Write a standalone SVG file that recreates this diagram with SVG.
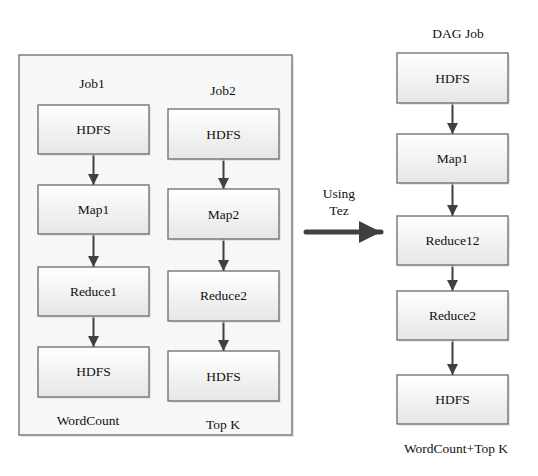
<svg xmlns="http://www.w3.org/2000/svg" width="538" height="476" viewBox="0 0 538 476">
<defs>
<linearGradient id="g" x1="0" y1="0" x2="0" y2="1"><stop offset="0" stop-color="#ffffff"/><stop offset="1" stop-color="#e6e6e6"/></linearGradient>
<marker id="ah" viewBox="0 0 10 10" refX="10" refY="5" markerWidth="6" markerHeight="5.5" markerUnits="strokeWidth" orient="auto"><path d="M0,0 L10,5 L0,10 z" fill="#404040"/></marker>
<marker id="big" viewBox="0 0 10 10" refX="10" refY="5" markerWidth="4.5" markerHeight="4.5" markerUnits="strokeWidth" orient="auto"><path d="M0,0 L10,5 L0,10 z" fill="#404040"/></marker>
<style>
.box{fill:url(#g);stroke:#6a6a6a;stroke-width:1.3}
.sh{fill:#d8d8d8;opacity:0.6}
.t{font-family:'Liberation Serif','DejaVu Serif','Times New Roman',serif;font-size:13.5px;fill:#111;text-anchor:middle}
.c{stroke:#404040;stroke-width:2;fill:none;marker-end:url(#ah)}
</style>
</defs>
<rect width="538" height="476" fill="#ffffff"/>
<g id="container">
<rect x="21" y="57" width="273" height="380" fill="#d0d0d0" opacity="0.5"/>
<rect x="19" y="55" width="273" height="380" fill="#f7f7f7" stroke="#6a6a6a" stroke-width="1.3"/>
</g>
<g id="labels">
<text class="t" x="92" y="88">Job1</text>
<text class="t" x="223" y="95">Job2</text>
<text class="t" x="88" y="425">WordCount</text>
<text class="t" x="223" y="429">Top K</text>
<text class="t" x="458" y="38">DAG Job</text>
<text class="t" x="456" y="453">WordCount+Top K</text>
<text class="t" x="339" y="198">Using</text>
<text class="t" x="339" y="215">Tez</text>
</g>
<g id="connectors">
<line class="c" x1="93.5" y1="154" x2="93.5" y2="185"/>
<line class="c" x1="93.5" y1="234" x2="93.5" y2="267"/>
<line class="c" x1="93.5" y1="316" x2="93.5" y2="347"/>
<line class="c" x1="223.5" y1="159" x2="223.5" y2="189"/>
<line class="c" x1="223.5" y1="239" x2="223.5" y2="271"/>
<line class="c" x1="223.5" y1="321" x2="223.5" y2="351"/>
<line class="c" x1="452.5" y1="103" x2="452.5" y2="134"/>
<line class="c" x1="452.5" y1="183" x2="452.5" y2="216"/>
<line class="c" x1="452.5" y1="265" x2="452.5" y2="291"/>
<line class="c" x1="452.5" y1="340" x2="452.5" y2="375"/>
<line x1="306" y1="232" x2="381" y2="232" stroke="#404040" stroke-width="5" stroke-linecap="round" marker-end="url(#big)"/>
</g>
<g id="job1-hdfs"><rect class="sh" x="40" y="107" width="111" height="49"/><rect class="box" x="38" y="105" width="111" height="49"/><text class="t" x="93.5" y="134">HDFS</text></g>
<g id="job1-map1"><rect class="sh" x="40" y="187" width="111" height="49"/><rect class="box" x="38" y="185" width="111" height="49"/><text class="t" x="93.5" y="214">Map1</text></g>
<g id="job1-reduce1"><rect class="sh" x="40" y="269" width="111" height="49"/><rect class="box" x="38" y="267" width="111" height="49"/><text class="t" x="93.5" y="296">Reduce1</text></g>
<g id="job1-hdfs-out"><rect class="sh" x="40" y="349" width="111" height="50"/><rect class="box" x="38" y="347" width="111" height="50"/><text class="t" x="93.5" y="376">HDFS</text></g>
<g id="job2-hdfs"><rect class="sh" x="170" y="111" width="111" height="50"/><rect class="box" x="168" y="109" width="111" height="50"/><text class="t" x="223.5" y="139">HDFS</text></g>
<g id="job2-map2"><rect class="sh" x="170" y="191" width="111" height="50"/><rect class="box" x="168" y="189" width="111" height="50"/><text class="t" x="223.5" y="219">Map2</text></g>
<g id="job2-reduce2"><rect class="sh" x="170" y="273" width="111" height="50"/><rect class="box" x="168" y="271" width="111" height="50"/><text class="t" x="223.5" y="300">Reduce2</text></g>
<g id="job2-hdfs-out"><rect class="sh" x="170" y="353" width="111" height="50"/><rect class="box" x="168" y="351" width="111" height="50"/><text class="t" x="223.5" y="381">HDFS</text></g>
<g id="dag-hdfs"><rect class="sh" x="399" y="55" width="111" height="50"/><rect class="box" x="397" y="53" width="111" height="50"/><text class="t" x="452.5" y="83">HDFS</text></g>
<g id="dag-map1"><rect class="sh" x="399" y="136" width="111" height="49"/><rect class="box" x="397" y="134" width="111" height="49"/><text class="t" x="452.5" y="163">Map1</text></g>
<g id="dag-reduce12"><rect class="sh" x="399" y="218" width="111" height="49"/><rect class="box" x="397" y="216" width="111" height="49"/><text class="t" x="452.5" y="245">Reduce12</text></g>
<g id="dag-reduce2"><rect class="sh" x="399" y="293" width="111" height="49"/><rect class="box" x="397" y="291" width="111" height="49"/><text class="t" x="452.5" y="320">Reduce2</text></g>
<g id="dag-hdfs-out"><rect class="sh" x="399" y="377" width="111" height="49"/><rect class="box" x="397" y="375" width="111" height="49"/><text class="t" x="452.5" y="404">HDFS</text></g>
</svg>
